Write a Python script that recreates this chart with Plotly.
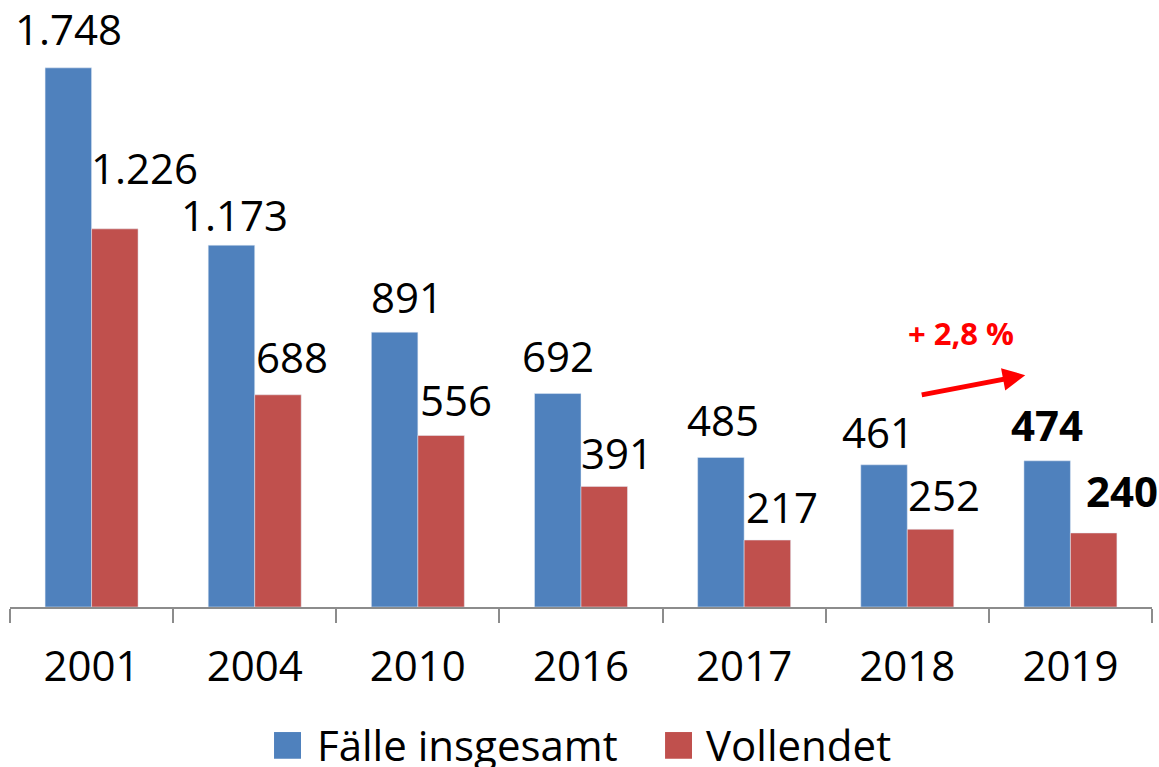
import plotly.graph_objects as go

years = ["2001", "2004", "2010", "2016", "2017", "2018", "2019"]
faelle = [1748, 1173, 891, 692, 485, 461, 474]
vollendet = [1226, 688, 556, 391, 217, 252, 240]
faelle_labels = ["1.748", "1.173", "891", "692", "485", "461", "474"]
vollendet_labels = ["1.226", "688", "556", "391", "217", "252", "240"]
series_names = ["Fälle insgesamt", "Vollendet"]
bold_year = "2019"
change_label = "+ 2,8 %"

BLUE = "#4F81BD"
RED = "#C0504D"
FONT = "Open Sans, Lato, sans-serif"
FS = 42

# label nudges (px) relative to bar centre / top
blue_dx = [0, 3, 12, 0, 2, -6, 0]
blue_dy = [39, 31, 36, 38, 38, 33, 36]
red_dx = [30, 14, 15, 13, 15, 14, 29]
red_dy = [61, 38, 36, 34, 34, 35, 42]
BAR_OFF = 23

fig = go.Figure()
fig.add_bar(x=years, y=faelle, name=series_names[0], marker_color=BLUE, showlegend=False)
fig.add_bar(x=years, y=vollendet, name=series_names[1], marker_color=RED, showlegend=False)

anns = []
for i, yr in enumerate(years):
    b = yr == bold_year
    for val, lab, dx, dy, sgn in ((faelle[i], faelle_labels[i], blue_dx[i], blue_dy[i], -1),
                                   (vollendet[i], vollendet_labels[i], red_dx[i], red_dy[i], 1)):
        anns.append(dict(x=i, y=val, xref="x", yref="y",
                         text=f"<b>{lab}</b>" if b else lab,
                         showarrow=False, xanchor="center", yanchor="middle",
                         xshift=sgn * BAR_OFF + dx, yshift=dy,
                         font=dict(family=FONT, size=FS, color="black")))

# growth annotation and arrow
anns.append(dict(x=0.833, y=0.451, xref="paper", yref="paper", text=f"<b>{change_label}</b>",
                 showarrow=False, xanchor="center", yanchor="middle",
                 font=dict(family=FONT, size=31, color="#FF0000")))
anns.append(dict(x=0.889, y=0.382, xref="paper", yref="paper", text="",
                 showarrow=True, ax=-105, ay=20, arrowhead=2, arrowsize=0.9,
                 arrowwidth=5, arrowcolor="#FF0000"))

# legend (drawn manually to match large square keys)
shapes = []
legend_items = [(series_names[0], BLUE, 0.2312, 0.2548, 0.2671),
                (series_names[1], RED, 0.5736, 0.5972, 0.6077)]
for name, col, x0, x1, tx in legend_items:
    shapes.append(dict(type="rect", xref="paper", yref="paper", x0=x0, x1=x1,
                       y0=-0.250, y1=-0.206, fillcolor=col, line=dict(width=0)))
    anns.append(dict(x=tx, y=-0.226, xref="paper", yref="paper", text=name,
                     showarrow=False, xanchor="left", yanchor="middle",
                     font=dict(family=FONT, size=FS, color="black")))

fig.update_layout(
    barmode="group", bargap=0.43, bargroupgap=0,
    width=1159, height=767,
    margin=dict(l=10, r=7, t=0, b=160),
    plot_bgcolor="white", paper_bgcolor="white",
    font=dict(family=FONT, size=FS, color="black"),
    showlegend=False,
    annotations=anns,
    shapes=shapes,
)
fig.update_xaxes(type="category", showline=True, linecolor="#8C8C8C", linewidth=2,
                 ticks="outside", tickson="boundaries", ticklen=14, tickcolor="#8C8C8C",
                 tickwidth=2, ticklabelstandoff=22, tickangle=0,
                 range=[-0.5, 6.5], tickfont=dict(family=FONT, size=FS))
fig.update_yaxes(visible=False, range=[0, 1968])

fig.write_html("out.html", config={"displayModeBar": False},
               post_script="document.body.style.margin='0';")
